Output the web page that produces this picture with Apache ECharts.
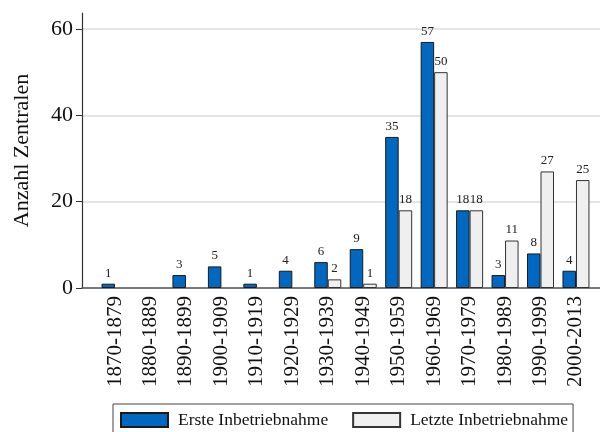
<!DOCTYPE html>
<html>
<head>
<meta charset="utf-8">
<script src="https://cdn.jsdelivr.net/npm/echarts@6/dist/echarts.min.js"></script>
<style>html,body{margin:0;padding:0;background:#fff}#c{width:600px;height:432px}</style>
</head>
<body>
<div id="c"></div>
<script>
const categories = ['1870-1879','1880-1889','1890-1899','1900-1909','1910-1919','1920-1929','1930-1939','1940-1949','1950-1959','1960-1969','1970-1979','1980-1989','1990-1999','2000-2013'];
const ersteValues = [1,0,3,5,1,4,6,9,35,57,18,3,8,4];
const letzteValues = [0,0,0,0,0,0,2,1,18,50,18,11,27,25];
const yTicks = [0,20,40,60];
const seriesNames = ['Erste Inbetriebnahme','Letzte Inbetriebnahme'];

const FONT = '"Liberation Serif", "Times New Roman", serif';
const toData = arr => arr.map(v => v === 0 ? '-' : v);

const chart = echarts.init(document.getElementById('c'), null, {renderer:'canvas'});
chart.setOption({
  animation: false,
  backgroundColor: '#fff',
  grid: [
    {left: 82, right: 0, top: 13, bottom: 144},
    {left: 82, right: 0, top: 29, bottom: 144},
    {left: 97.3, right: 6.3, top: 29, bottom: 144}
  ],
  xAxis: [
    {gridIndex: 0, type: 'category', data: categories, axisLine: {show: true, lineStyle: {color: '#555', width: 1.5}}, axisTick: {show: false}, axisLabel: {show: false}},
    {gridIndex: 1, type: 'category', data: categories, show: false},
    {gridIndex: 2, type: 'category', data: categories,
      axisLine: {show: false}, axisTick: {show: false},
      axisLabel: {interval: 0, rotate: 90, margin: 8, fontFamily: FONT, fontSize: 21, color: '#111'}}
  ],
  yAxis: [
    {gridIndex: 0, type: 'value', min: 0, max: 64,
      axisLine: {show: true, lineStyle: {color: '#333', width: 1.2}}, axisTick: {show: false}, axisLabel: {show: false}, splitLine: {show: false},
      name: 'Anzahl Zentralen', nameLocation: 'middle', nameGap: 49,
      nameTextStyle: {fontFamily: FONT, fontSize: 22, color: '#111'}},
    {gridIndex: 1, type: 'value', min: yTicks[0], max: yTicks[yTicks.length-1], interval: 20,
      axisLine: {show: false}, axisTick: {show: true, length: 6, lineStyle: {color: '#333'}},
      axisLabel: {fontFamily: FONT, fontSize: 22, color: '#111', margin: 9},
      splitLine: {show: true, lineStyle: {color: '#dcdcdc', width: 1.5}}},
    {gridIndex: 2, type: 'value', min: 0, max: 60, show: false, splitLine: {show: false}}
  ],
  legend: {
    left: 113, top: 404,
    padding: [7, 5, 8, 7],
    itemGap: 24, itemWidth: 47, itemHeight: 14,
    borderColor: '#444', borderWidth: 1,
    icon: 'rect',
    textStyle: {fontFamily: FONT, fontSize: 17.5, color: '#111', padding: [0, 0, 0, 5]},
    data: seriesNames
  },
  series: [
    {name: seriesNames[0], type: 'bar', xAxisIndex: 2, yAxisIndex: 2, data: toData(ersteValues),
      barWidth: 13.5, barGap: 0,
      itemStyle: {color: '#0068c0', borderColor: '#1a1a1a', borderWidth: 1},
      label: {show: true, position: 'top', distance: 4, fontFamily: FONT, fontSize: 13, color: '#222'}},
    {name: seriesNames[1], type: 'bar', xAxisIndex: 2, yAxisIndex: 2, data: toData(letzteValues),
      barWidth: 13.5, barGap: 0,
      itemStyle: {color: '#efefef', borderColor: '#333', borderWidth: 1},
      label: {show: true, position: 'top', distance: 4, fontFamily: FONT, fontSize: 13, color: '#222'}}
  ]
});
</script>
</body>
</html>
